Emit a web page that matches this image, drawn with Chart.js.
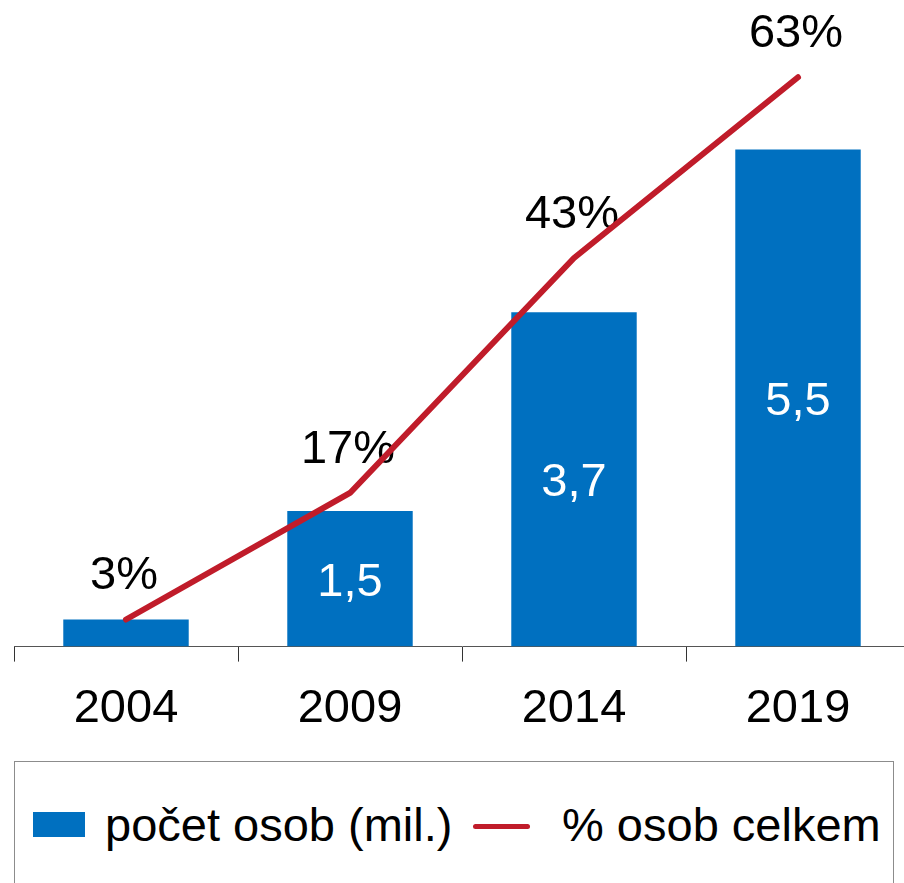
<!DOCTYPE html>
<html>
<head>
<meta charset="utf-8">
<script src="https://cdn.jsdelivr.net/npm/chart.js@4/dist/chart.umd.min.js"></script>
<style>
  html, body { margin: 0; padding: 0; background: #fff; overflow: hidden; }
  body { width: 904px; height: 883px; position: relative; font-family: "Liberation Sans", Arial, sans-serif; }
  #chart { position: absolute; left: 0; top: 0; }
  .legend { position: absolute; left: 14px; top: 761px; width: 880px; height: 140px; border: 1px solid #8c8c8c; box-sizing: border-box; }
  .legend .box { position: absolute; left: 18px; top: 50px; width: 52px; height: 25px; background: #0070c0; }
  .legend .line { position: absolute; left: 458px; top: 62px; width: 57px; height: 5px; border-radius: 3px; background: #c01c2a; }
  .legend .txt { position: absolute; top: 39px; font-size: 47px; line-height: 47px; color: #000; white-space: nowrap; }
</style>
</head>
<body>
<canvas id="chart" width="920" height="760"></canvas>
<div class="legend">
  <div class="box"></div>
  <div class="txt" style="left:90px">počet osob (mil.)</div>
  <div class="line"></div>
  <div class="txt" style="left:547px">% osob celkem</div>
</div>
<script>
const years = ["2004", "2009", "2014", "2019"];
const personsMil = [0.3, 1.5, 3.7, 5.5];
const sharePct = [3, 17, 43, 63];

const font = { family: "'Liberation Sans', Arial, sans-serif", size: 47 };

const valueLabels = {
  id: "valueLabels",
  afterDatasetDraw(chart, args) {
    if (args.index !== 0) return;
    const ctx = chart.ctx;
    ctx.save();
    ctx.font = "47px 'Liberation Sans', Arial, sans-serif";
    ctx.fillStyle = "#fff";
    ctx.textAlign = "center";
    ctx.textBaseline = "middle";
    args.meta.data.forEach((bar, i) => {
      if (bar.base - bar.y < 60) return;
      const txt = personsMil[i].toFixed(1).replace(".", ",");
      ctx.fillText(txt, bar.x, (bar.y + bar.base) / 2 + 4);
    });
    ctx.restore();
  },
  beforeDatasetDraw(chart, args) {
    if (args.index !== 1) return;
    const ctx = chart.ctx;
    ctx.save();
    ctx.font = "47px 'Liberation Sans', Arial, sans-serif";
    ctx.fillStyle = "#000";
    ctx.textAlign = "center";
    ctx.textBaseline = "middle";
    args.meta.data.forEach((pt, i) => {
      ctx.fillText(sharePct[i] + "%", pt.x - 2, pt.y - 43);
    });
    ctx.restore();
  }
};

new Chart("chart", {
  type: "bar",
  data: {
    labels: years,
    datasets: [{
      label: "počet osob (mil.)",
      data: personsMil,
      backgroundColor: "#0070c0",
      categoryPercentage: 1,
      barPercentage: 0.56,
      yAxisID: "y",
      order: 1
    }, {
      type: "line",
      label: "% osob celkem",
      data: sharePct,
      borderColor: "#c01c2a",
      borderWidth: 6,
      borderCapStyle: "round",
      borderJoinStyle: "round",
      tension: 0,
      pointRadius: 0,
      fill: false,
      yAxisID: "y1",
      order: 0
    }]
  },
  options: {
    responsive: false,
    devicePixelRatio: 1,
    animation: false,
    layout: { padding: { left: 14, right: 10, top: 14, bottom: 4 } },
    plugins: {
      legend: { display: false },
      tooltip: { enabled: false }
    },
    scales: {
      x: {
        offset: true,
        grid: { offset: true, drawOnChartArea: false, tickLength: 15, color: "#333", lineWidth: 1 },
        border: { display: true, color: "#555", width: 1 },
        ticks: { font: font, color: "#000", padding: 19 }
      },
      y: { display: false, min: 0, max: 7 },
      y1: { display: false, min: 0, max: 70 }
    }
  },
  plugins: [valueLabels]
});
</script>
</body>
</html>
